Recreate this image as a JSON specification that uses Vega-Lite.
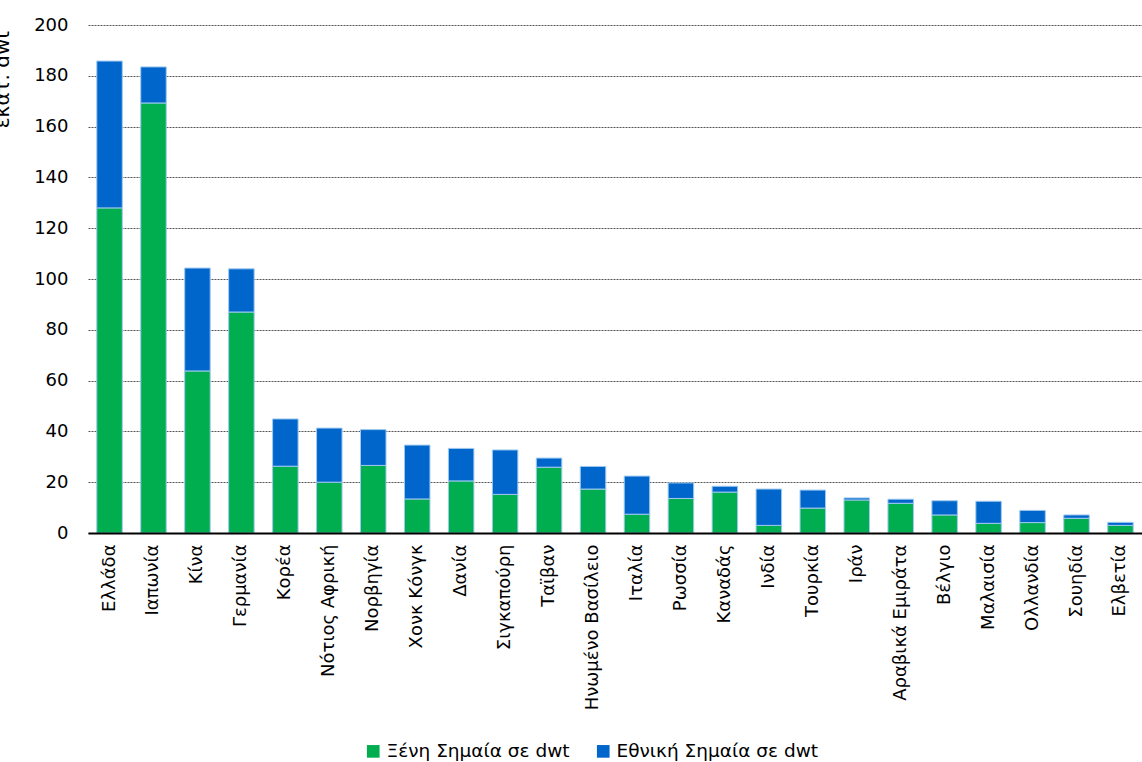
{
  "$schema": "https://vega.github.io/schema/vega-lite/v6.json",
  "width": 1054,
  "height": 508,
  "autosize": {"type": "none"},
  "padding": {"left": 88, "top": 25, "right": 0, "bottom": 229},
  "background": "white",
  "config": {
    "font": "DejaVu Sans",
    "view": {"stroke": null}
  },
  "data": {
    "values": [
      {"country": "Ελλάδα", "flag": "Ξένη Σημαία σε dwt", "value": 128},
      {"country": "Ελλάδα", "flag": "Εθνική Σημαία σε dwt", "value": 57.8},
      {"country": "Ιαπωνία", "flag": "Ξένη Σημαία σε dwt", "value": 169.3},
      {"country": "Ιαπωνία", "flag": "Εθνική Σημαία σε dwt", "value": 14.2},
      {"country": "Κίνα", "flag": "Ξένη Σημαία σε dwt", "value": 63.8},
      {"country": "Κίνα", "flag": "Εθνική Σημαία σε dwt", "value": 40.5},
      {"country": "Γερμανία", "flag": "Ξένη Σημαία σε dwt", "value": 87},
      {"country": "Γερμανία", "flag": "Εθνική Σημαία σε dwt", "value": 17},
      {"country": "Κορέα", "flag": "Ξένη Σημαία σε dwt", "value": 26.3},
      {"country": "Κορέα", "flag": "Εθνική Σημαία σε dwt", "value": 18.6},
      {"country": "Νότιος Αφρική", "flag": "Ξένη Σημαία σε dwt", "value": 20.0},
      {"country": "Νότιος Αφρική", "flag": "Εθνική Σημαία σε dwt", "value": 21.3},
      {"country": "Νορβηγία", "flag": "Ξένη Σημαία σε dwt", "value": 26.6},
      {"country": "Νορβηγία", "flag": "Εθνική Σημαία σε dwt", "value": 14.1},
      {"country": "Χονκ Κόνγκ", "flag": "Ξένη Σημαία σε dwt", "value": 13.4},
      {"country": "Χονκ Κόνγκ", "flag": "Εθνική Σημαία σε dwt", "value": 21.2},
      {"country": "Δανία", "flag": "Ξένη Σημαία σε dwt", "value": 20.5},
      {"country": "Δανία", "flag": "Εθνική Σημαία σε dwt", "value": 12.8},
      {"country": "Σιγκαπούρη", "flag": "Ξένη Σημαία σε dwt", "value": 15.2},
      {"country": "Σιγκαπούρη", "flag": "Εθνική Σημαία σε dwt", "value": 17.5},
      {"country": "Ταϊβαν", "flag": "Ξένη Σημαία σε dwt", "value": 25.9},
      {"country": "Ταϊβαν", "flag": "Εθνική Σημαία σε dwt", "value": 3.6},
      {"country": "Ηνωμένο Βασίλειο", "flag": "Ξένη Σημαία σε dwt", "value": 17.3},
      {"country": "Ηνωμένο Βασίλειο", "flag": "Εθνική Σημαία σε dwt", "value": 8.9},
      {"country": "Ιταλία", "flag": "Ξένη Σημαία σε dwt", "value": 7.4},
      {"country": "Ιταλία", "flag": "Εθνική Σημαία σε dwt", "value": 15.0},
      {"country": "Ρωσσία", "flag": "Ξένη Σημαία σε dwt", "value": 13.6},
      {"country": "Ρωσσία", "flag": "Εθνική Σημαία σε dwt", "value": 6.1},
      {"country": "Καναδάς", "flag": "Ξένη Σημαία σε dwt", "value": 16.1},
      {"country": "Καναδάς", "flag": "Εθνική Σημαία σε dwt", "value": 2.3},
      {"country": "Ινδία", "flag": "Ξένη Σημαία σε dwt", "value": 3.0},
      {"country": "Ινδία", "flag": "Εθνική Σημαία σε dwt", "value": 14.3},
      {"country": "Τουρκία", "flag": "Ξένη Σημαία σε dwt", "value": 9.8},
      {"country": "Τουρκία", "flag": "Εθνική Σημαία σε dwt", "value": 7.1},
      {"country": "Ιράν", "flag": "Ξένη Σημαία σε dwt", "value": 13.0},
      {"country": "Ιράν", "flag": "Εθνική Σημαία σε dwt", "value": 0.8},
      {"country": "Αραβικά Εμιράτα", "flag": "Ξένη Σημαία σε dwt", "value": 11.7},
      {"country": "Αραβικά Εμιράτα", "flag": "Εθνική Σημαία σε dwt", "value": 1.6},
      {"country": "Βέλγιο", "flag": "Ξένη Σημαία σε dwt", "value": 7.1},
      {"country": "Βέλγιο", "flag": "Εθνική Σημαία σε dwt", "value": 5.6},
      {"country": "Μαλαισία", "flag": "Ξένη Σημαία σε dwt", "value": 3.8},
      {"country": "Μαλαισία", "flag": "Εθνική Σημαία σε dwt", "value": 8.7},
      {"country": "Ολλανδία", "flag": "Ξένη Σημαία σε dwt", "value": 4.1},
      {"country": "Ολλανδία", "flag": "Εθνική Σημαία σε dwt", "value": 4.8},
      {"country": "Σουηδία", "flag": "Ξένη Σημαία σε dwt", "value": 5.8},
      {"country": "Σουηδία", "flag": "Εθνική Σημαία σε dwt", "value": 1.3},
      {"country": "Ελβετία", "flag": "Ξένη Σημαία σε dwt", "value": 3.0},
      {"country": "Ελβετία", "flag": "Εθνική Σημαία σε dwt", "value": 1.2}
    ]
  },
  "mark": {"type": "bar", "stroke": "#9fc9ee", "strokeWidth": 1},
  "encoding": {
    "x": {
      "field": "country",
      "type": "nominal",
      "sort": null,
      "scale": {"paddingInner": 0.42, "paddingOuter": 0.2},
      "axis": {
        "title": null,
        "labelAngle": -90,
        "labelAlign": "right",
        "labelBaseline": "middle",
        "labelFontSize": 18,
        "labelColor": "#000000",
        "labelPadding": 11,
        "labelLimit": 300,
        "ticks": false,
        "domainColor": "#000000",
        "domainWidth": 2,
        "grid": false,
        "zindex": 1
      }
    },
    "y": {
      "field": "value",
      "type": "quantitative",
      "stack": "zero",
      "scale": {"domain": [0, 200], "nice": false},
      "axis": {
        "values": [0, 20, 40, 60, 80, 100, 120, 140, 160, 180, 200],
        "title": "εκατ. dwt",
        "titleFontSize": 20,
        "titleFontWeight": "normal",
        "titleColor": "#000000",
        "titleAngle": -90,
        "titleX": -80,
        "titleY": 54,
        "titleAlign": "center",
        "titleBaseline": "alphabetic",
        "labelFontSize": 18,
        "labelColor": "#000000",
        "labelPadding": 20,
        "ticks": false,
        "domain": false,
        "grid": true,
        "gridColor": "#555555",
        "gridDash": [2, 1],
        "gridWidth": 1
      }
    },
    "color": {
      "field": "flag",
      "type": "nominal",
      "scale": {
        "domain": ["Ξένη Σημαία σε dwt", "Εθνική Σημαία σε dwt"],
        "range": ["#00ad4f", "#0066cc"]
      },
      "legend": {
        "title": null,
        "orient": "none",
        "direction": "horizontal",
        "legendX": 276,
        "legendY": 717,
        "symbolType": "square",
        "symbolSize": 160,
        "symbolStrokeWidth": 0,
        "labelFontSize": 18.5,
        "labelColor": "#000000",
        "columnPadding": 24,
        "labelOffset": 4,
        "labelLimit": 300
      }
    },
    "order": {"field": "flag", "sort": "descending"}
  }
}
